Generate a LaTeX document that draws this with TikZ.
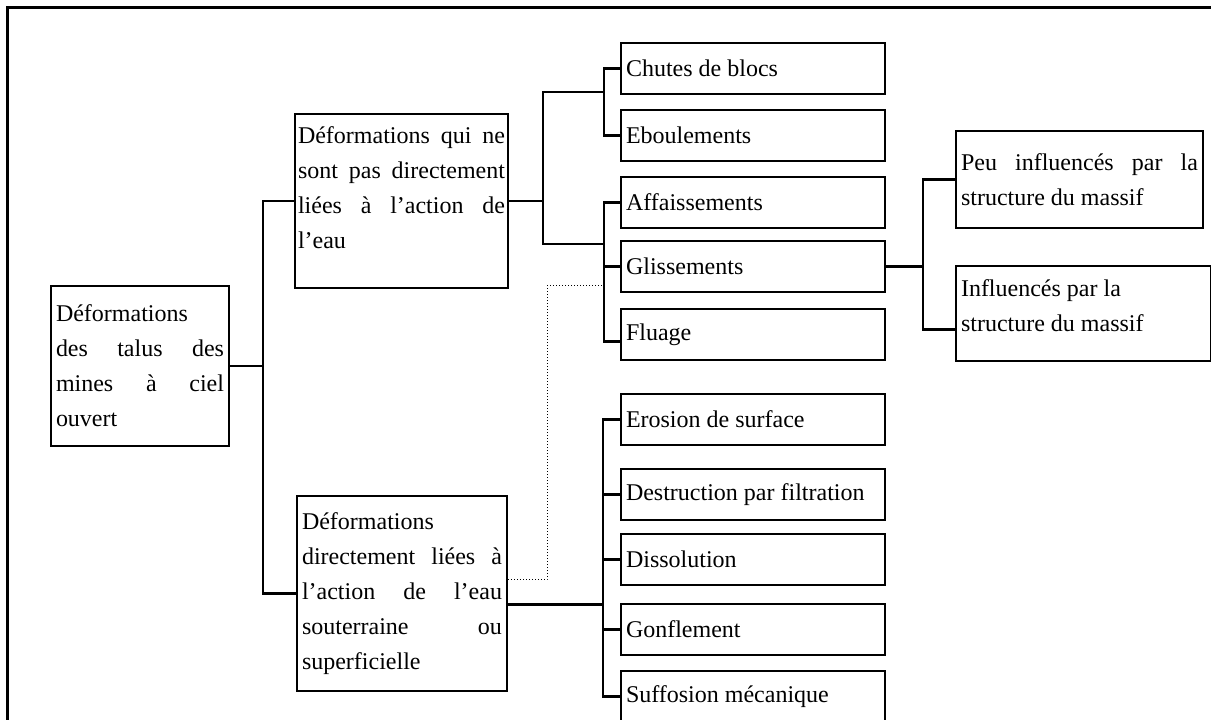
\documentclass[tikz,border=0pt]{standalone}
\usepackage{fontspec}
\setmainfont{Liberation Serif}
\usetikzlibrary{positioning,calc}
\tolerance=10000
\hbadness=10000

\begin{document}
\begin{tikzpicture}[x=1pt,y=-1pt,
 box/.style={draw, line width=2pt, anchor=north west, inner xsep=5pt, inner ysep=0pt,
  align=justify, font=\fontsize{24}{35}\selectfont},
 leaf/.style={box, text width=254pt, minimum height=51pt},
 link/.style={line width=2.2pt},
 aux/.style={line width=1pt, dotted}]
 \useasboundingbox (0,0) rectangle (1211,720);
 \draw[line width=3pt] (1211,7) -- (7,7) -- (7,720);
 \node[box, text width=168pt, minimum height=160pt] (root) at (50,285)
  {Déformations\\ des talus des\linebreak mines à ciel\linebreak ouvert};
 \node[box, inner xsep=3pt, text width=207pt, minimum height=174pt] (dry) at (294,113)
  {Déformations qui ne\linebreak sont pas directement\linebreak liées à l'action de\linebreak l'eau\par\kern26pt};
 \node[box, text width=200pt, minimum height=195pt] (wet) at (296,495)
  {Déformations\\ directement liées à\linebreak l'action de l'eau\linebreak souterraine ou\linebreak superficielle};
 \node[leaf] (chutes) at (620,42) {Chutes de blocs};
 \node[leaf, below=14pt of chutes.south west, anchor=north west] (ebou) {Eboulements};
 \node[leaf, below=14pt of ebou.south west, anchor=north west] (affa) {Affaissements};
 \node[leaf, below=11pt of affa.south west, anchor=north west] (gliss) {Glissements};
 \node[leaf, below=15pt of gliss.south west, anchor=north west] (flu) {Fluage};
 \node[leaf] (ero) at (620,393) {Erosion de surface};
 \node[leaf, below=22pt of ero.south west, anchor=north west] (destr) {Destruction par filtration};
 \node[leaf, below=12pt of destr.south west, anchor=north west] (diss) {Dissolution};
 \node[leaf, below=17pt of diss.south west, anchor=north west] (gonf) {Gonflement};
 \node[leaf, below=14pt of gonf.south west, anchor=north west] (suff) {Suffosion mécanique};
 \node[box, text width=237pt, minimum height=97pt] (peu) at (955,130)
  {Peu influencés par la\linebreak structure du massif};
 \node[box, text width=245pt, minimum height=95pt] (infl) at (955,265)
  {Influencés par la\\ structure du massif\par\kern16pt};

 \coordinate (j1) at ($(root.east)+(33,0)$);
 \coordinate (j2) at ($(dry.east)+(34,0)$);
 \coordinate (j3) at ($(wet.east)+(0,11)$);
 \coordinate (j4) at ($(gliss.east)+(37,0)$);
 \coordinate (g3) at ($(ero.west)+(-17,0)$);
 \coordinate (d1) at ($(gliss.west)!0.28!(flu.west)+(-16,0)$);

 \draw[link] (root.east) -- (j1);
 \draw[link] (dry.west) -| (j1) |- (wet.west);
 \draw[link] (dry.east) -- (j2);
 \draw[link] ($(chutes.west)!0.35!(ebou.west)+(-16,0)$) -| (j2)
  |- ($(affa.west)!0.65!(gliss.west)+(-16,0)$);
 \draw[link] (chutes.west) -- ++(-16,0) |- (ebou.west);
 \draw[link] (affa.west) -- ++(-16,0) |- ($(flu.west)+(0,7)$);
 \draw[link] (gliss.west) -- ++(-16,0);
 \draw[link] (j3) -- (j3 -| g3);
 \draw[link] (ero.west) -- (g3) |- (suff.west);
 \foreach \n in {destr,diss,gonf}
  \draw[link] (\n.west) -- ++(-17,0);
 \draw[link] (gliss.east) -- (j4);
 \draw[link] (peu.west) -| (j4) |- ($(infl.west)+(0,16)$);
 \draw[aux] ($(wet.east)+(0,-14)$) -| ($(d1)+(-57,0)$) -- (d1);
\end{tikzpicture}
\end{document}
